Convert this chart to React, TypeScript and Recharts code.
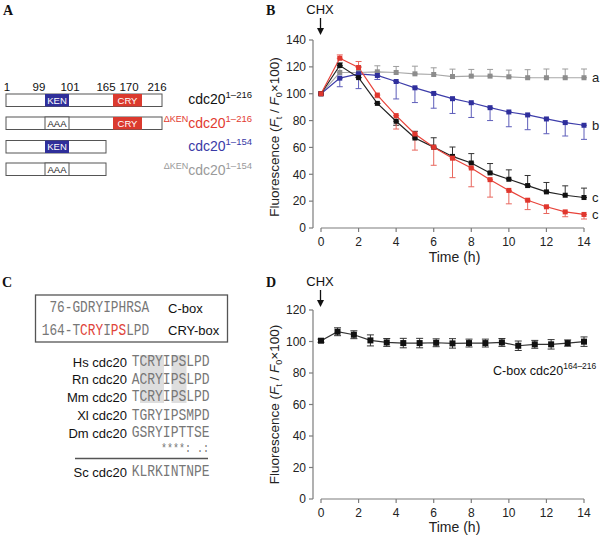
import React from "react";
import { LineChart, Line, XAxis, YAxis, ErrorBar, ReferenceLine } from "recharts";

// ---- panel B: fluorescence decay after CHX ----
const hoursB = [0, 1, 2, 3, 4, 5, 6, 7, 8, 9, 10, 11, 12, 13, 14];
const fullVals = [100, 121, 112, 92.8, 79.5, 67, 60.2, 53.3, 48.4, 41, 36.3, 31.6, 26.9, 24.4, 22.7];
const fullErrLow = [0, 0, 0, 0, 3, 0, 0, 0, 0, 0, 0, 0, 0, 0, 0];
const fullErrHigh = [0, 2, 0, 0, 0, 5, 7, 7, 7, 7, 7, 7.5, 7, 7, 7];
const dKenVals = [100, 126.4, 119.5, 99, 83.7, 70, 60.2, 52, 44.7, 36, 28, 20.7, 15.8, 12, 10.1];
const dKenErrLow = [0, 0, 0, 2, 10, 12, 13.5, 14.5, 14, 13, 10, 7, 5, 3.6, 3.4];
const dKenErrHigh = [0, 2.5, 4.5, 0, 0, 0, 0, 0, 0, 0, 0, 0, 0, 0, 0];
const shortVals = [100, 111.6, 114.8, 113.6, 109.1, 104.4, 100.2, 96.3, 93.3, 89.6, 86.4, 84.2, 81.2, 78.5, 76.5];
const shortErrLow = [0, 6.4, 11, 3, 13, 11, 11, 11, 11, 9.6, 11, 11, 11, 10, 10.5];
const shortErrHigh = [0, 0, 0, 0, 0, 0, 0, 0, 0, 0, 0, 0, 0, 0, 0];
const dKenShortVals = [100, 115.8, 115.8, 116.3, 115.8, 114.8, 114.3, 112.8, 113.1, 113.1, 112.6, 111.9, 111.9, 111.9, 111.9];
const dKenShortErrLow = [0, 0, 0, 0, 0, 0, 0, 0, 0, 0, 0, 0, 0, 0, 0];
const dKenShortErrHigh = [0, 4, 4.5, 4.5, 4.5, 5.7, 5, 5.5, 5, 5, 5, 6, 6.5, 6.5, 6.5];
const ticksB = [0, 20, 40, 60, 80, 100, 120, 140];
const hourTicks = [0, 2, 4, 6, 8, 10, 12, 14];

// ---- panel D: C-box construct ----
const hoursD = [0, 0.88, 1.75, 2.63, 3.5, 4.38, 5.25, 6.13, 7, 7.88, 8.75, 9.63, 10.5, 11.38, 12.25, 13.13, 14];
const cBoxVals = [100.5, 106.2, 104.3, 100.7, 99.4, 99, 99, 99.2, 98.8, 99, 99, 99.4, 97.3, 98.2, 98.2, 99, 99.9];
const cBoxErr = [1, 2.5, 2.5, 3.5, 2.5, 3, 3, 2.5, 3, 2.5, 2.5, 2.5, 3, 2.5, 3, 2, 3];
const ticksD = [0, 20, 40, 60, 80, 100, 120];

// ---- panel A: constructs ----
const residueLabels = ["1", "99", "101", "165", "170", "216"];
const residueX = [7, 39, 70, 106, 129, 157];
const constructPrefix = ["", "\u0394KEN", "", "\u0394KEN"];
const constructSup = ["1\u2013216", "1\u2013216", "1\u2013154", "1\u2013154"];
const constructColor = ["#111", "#e23b30", "#3a3aa6", "#9a9a9a"];
const constructEnd = [162, 162, 106, 106];
const constructKen = ["KEN", "AAA", "KEN", "AAA"];
const constructCry = [true, true, false, false];

// ---- panel C: alignment ----
const motifPrefix = ["76-", "164-"];
const motifSeq = ["GDRYIPHRSA", "TCRYIPSLPD"];
const motifName = ["C-box", "CRY-box"];
const species = ["Hs cdc20", "Rn cdc20", "Mm cdc20", "Xl cdc20", "Dm cdc20"];
const speciesSeq = ["TCRYIPSLPD", "ACRYIPSLPD", "TCRYIPSLPD", "TGRYIPSMPD", "GSRYIPTTSE"];
const conservation = "****: .:";
const yeastSeq = "KLRKINTNPE";

const rowsB = hoursB.map((t, i) => ({
  t,
  full: fullVals[i],
  fullErr: [fullErrLow[i], fullErrHigh[i]],
  dKen: dKenVals[i],
  dKenErr: [dKenErrLow[i], dKenErrHigh[i]],
  short: shortVals[i],
  shortErr: [shortErrLow[i], shortErrHigh[i]],
  dKenShort: dKenShortVals[i],
  dKenShortErr: [dKenShortErrLow[i], dKenShortErrHigh[i]],
}));

const rowsD = hoursD.map((t, i) => ({ t, cbox: cBoxVals[i], cboxErr: cBoxErr[i] }));

const SANS = "'Liberation Sans', Arial, sans-serif";
const MONO = "'Liberation Mono', monospace";
const SERIF = "'Liberation Serif', 'Times New Roman', serif";
const axisColor = "#7c7c7c";

const square = (color: string, size: number) => (props: any) => {
  const { cx, cy, index } = props;
  if (cx == null || cy == null) return <g key={`e-${index}`} />;
  return <rect key={`sq-${index}`} x={cx - size / 2} y={cy - size / 2} width={size} height={size} fill={color} />;
};

const endLabel = (text: string, last: number) => (props: any) => {
  if (props.index !== last) return <g key={`l-${props.index}`} />;
  return (
    <text key="end" x={props.x + 8} y={props.y} dy="0.35em" fontSize={13} fill="#222" fontFamily={SANS}>
      {text}
    </text>
  );
};

const fluorLabel = (shift: number) => (p: any) => {
  const vb = p.viewBox || { x: 0, y: 0, width: 0, height: 0 };
  const cx = vb.x + 14;
  const cy = vb.y + vb.height / 2 + shift;
  return (
    <text x={cx} y={cy} transform={`rotate(-90 ${cx} ${cy})`} textAnchor="middle" dy="0.35em" fontSize={13.5} fill="#222" fontFamily={SANS}>
      Fluorescence (<tspan fontStyle="italic">F</tspan>
      <tspan fontSize={9} dy={3}>t</tspan>
      <tspan dy={-3}> / </tspan>
      <tspan fontStyle="italic">F</tspan>
      <tspan fontSize={9} dy={3}>0</tspan>
      <tspan dy={-3}>{"\u00d7"}100)</tspan>
    </text>
  );
};

const axisTick = { fill: "#222", fontSize: 12, fontFamily: SANS };

function PanelB() {
  return (
    <LineChart width={341} height={265} data={rowsB} margin={{ top: 40, right: 17, left: 0, bottom: 0 }}>
      <XAxis
        type="number"
        dataKey="t"
        domain={[0, 14]}
        ticks={hourTicks}
        padding={{ left: 8, right: 0 }}
        axisLine={false}
        tickLine={{ stroke: axisColor, strokeWidth: 1.2 }}
        tickSize={4}
        tickMargin={5}
        tick={axisTick}
        height={37}
        label={{ value: "Time (h)", position: "insideBottom", offset: 3, dx: 6, fontSize: 14, fill: "#222", fontFamily: SANS }}
      />
      <YAxis
        type="number"
        domain={[0, 140]}
        ticks={ticksB}
        width={53}
        axisLine={{ stroke: axisColor, strokeWidth: 1.2 }}
        tickLine={{ stroke: axisColor, strokeWidth: 1.2 }}
        tickSize={4}
        tickMargin={3}
        tick={axisTick}
        label={fluorLabel(3)}
      />
      <ReferenceLine segment={[{ x: 0, y: 0 }, { x: 14, y: 0 }]} stroke={axisColor} strokeWidth={1.2} />
      <Line dataKey="dKenShort" stroke="#a8a8a8" strokeWidth={1.2} dot={square("#8c8c8c", 5)} isAnimationActive={false} label={endLabel("a", 14)}>
        <ErrorBar dataKey="dKenShortErr" direction="y" width={3} stroke="#9c9c9c" strokeWidth={1} />
      </Line>
      <Line dataKey="short" stroke="#3d3daa" strokeWidth={1.2} dot={square("#2f2f9c", 5)} isAnimationActive={false} label={endLabel("b", 14)}>
        <ErrorBar dataKey="shortErr" direction="y" width={3} stroke="#5e5eba" strokeWidth={1} />
      </Line>
      <Line dataKey="full" stroke="#222" strokeWidth={1.2} dot={square("#111", 5)} isAnimationActive={false} label={endLabel("c", 14)}>
        <ErrorBar dataKey="fullErr" direction="y" width={3} stroke="#333" strokeWidth={1} />
      </Line>
      <Line dataKey="dKen" stroke="#e8433a" strokeWidth={1.2} dot={square("#e0372e", 5)} isAnimationActive={false} label={endLabel("c", 14)}>
        <ErrorBar dataKey="dKenErr" direction="y" width={3} stroke="#e8675e" strokeWidth={1} />
      </Line>
    </LineChart>
  );
}

function PanelD() {
  return (
    <LineChart width={341} height={265} data={rowsD} margin={{ top: 40, right: 17, left: 0, bottom: 0 }}>
      <XAxis
        type="number"
        dataKey="t"
        domain={[0, 14]}
        ticks={hourTicks}
        padding={{ left: 8, right: 0 }}
        axisLine={false}
        tickLine={{ stroke: axisColor, strokeWidth: 1.2 }}
        tickSize={4}
        tickMargin={5}
        tick={axisTick}
        height={36}
        label={{ value: "Time (h)", position: "insideBottom", offset: 3, dx: 6, fontSize: 14, fill: "#222", fontFamily: SANS }}
      />
      <YAxis
        type="number"
        domain={[0, 120]}
        ticks={ticksD}
        width={53}
        axisLine={{ stroke: axisColor, strokeWidth: 1.2 }}
        tickLine={{ stroke: axisColor, strokeWidth: 1.2 }}
        tickSize={4}
        tickMargin={3}
        tick={axisTick}
        label={fluorLabel(0)}
      />
      <ReferenceLine segment={[{ x: 0, y: 0 }, { x: 14, y: 0 }]} stroke={axisColor} strokeWidth={1.2} />
      <Line dataKey="cbox" stroke="#333" strokeWidth={1.2} dot={square("#111", 6)} isAnimationActive={false}>
        <ErrorBar dataKey="cboxErr" direction="y" width={3.5} stroke="#333" strokeWidth={1} />
      </Line>
    </LineChart>
  );
}

function Arrow({ x, y1, y2 }: { x: number; y1: number; y2: number }) {
  return (
    <g>
      <line x1={x} y1={y1} x2={x} y2={y2 - 5} stroke="#111" strokeWidth={1.3} />
      <path d={`M${x - 3.5},${y2 - 7} L${x + 3.5},${y2 - 7} L${x},${y2} Z`} fill="#111" />
    </g>
  );
}

function Seq({ x, y, text, size = 13, fill = "#777", red }: { x: number; y: number; text: string; size?: number; fill?: string; red?: boolean[] }) {
  const chars = text.split("");
  return (
    <text
      x={x}
      y={y}
      fontFamily={MONO}
      fontSize={size}
      fill={fill}
      xmlSpace="preserve"
      transform={`matrix(1 0 0 1.3 0 ${(-0.3 * y).toFixed(2)})`}
    >
      {red
        ? chars.map((c, i) => (
            <tspan key={i} fill={red[i] ? "#e0443a" : fill}>
              {c}
            </tspan>
          ))
        : text}
    </text>
  );
}

function Overlay() {
  const rowTop = [94, 117, 140.5, 163];
  const rowBase = [103.5, 128, 151, 175];
  const barH = 12.5;
  const seqX = 131.7;
  const rowBaseC = [366.5, 384, 401.5, 420, 437.5];
  return (
    <svg width={601} height={538} style={{ position: "absolute", left: 0, top: 0, pointerEvents: "none" }}>
      {/* panel letters */}
      {[["A", 3, 15], ["B", 266, 15], ["C", 2, 287], ["D", 266, 287]].map(([t, x, y]) => (
        <text key={t as string} x={x as number} y={y as number} fontFamily={SERIF} fontWeight="bold" fontSize={14} fill="#111">
          {t}
        </text>
      ))}

      {/* panel A */}
      {residueLabels.map((r, i) => (
        <text key={r} x={residueX[i]} y={91} textAnchor="middle" fontFamily={SANS} fontSize={11.5} fill="#111">
          {r}
        </text>
      ))}
      {rowTop.map((top, i) => (
        <g key={i}>
          <rect x={6} y={top} width={constructEnd[i] - 6} height={barH} fill="#fff" stroke="#555" strokeWidth={1} />
          {constructKen[i] === "KEN" ? (
            <rect x={45} y={top} width={24} height={barH} fill="#2f2f9a" />
          ) : (
            <rect x={45} y={top} width={24} height={barH} fill="#fff" stroke="#555" strokeWidth={1} />
          )}
          <text x={57} y={top + 9.5} textAnchor="middle" fontFamily={SANS} fontSize={9.5} fill={constructKen[i] === "KEN" ? "#fff" : "#222"}>
            {constructKen[i]}
          </text>
          {constructCry[i] && (
            <g>
              <rect x={113} y={top} width={29} height={barH} fill="#db3a2e" />
              <text x={127.5} y={top + 9.5} textAnchor="middle" fontFamily={SANS} fontSize={9.5} fill="#fff">
                CRY
              </text>
            </g>
          )}
          <text x={252} y={rowBase[i]} textAnchor="end" fontFamily={SANS} fontSize={14} fill={constructColor[i]}>
            {constructPrefix[i] && (
              <tspan fontSize={9} dy={-6}>
                {constructPrefix[i]}
              </tspan>
            )}
            <tspan dy={constructPrefix[i] ? 6 : 0}>cdc20</tspan>
            <tspan fontSize={9.5} dy={-6}>
              {constructSup[i]}
            </tspan>
          </text>
        </g>
      ))}

      {/* panel B extras */}
      <text x={320} y={14} textAnchor="middle" fontFamily={SANS} fontSize={13} fill="#111">CHX</text>
      <Arrow x={320.5} y1={18} y2={35} />

      {/* panel C */}
      <rect x={35.5} y={295} width={192} height={47} fill="none" stroke="#555" strokeWidth={1.3} />
      {motifSeq.map((s, i) => {
        const base = i === 0 ? 312.5 : 335;
        const pre = motifPrefix[i];
        const red = (pre + s).split("").map((_, k) => i === 1 && [5, 6, 7, 9, 10].includes(k));
        return (
          <g key={s}>
            <Seq x={72.5 - pre.length * 7.7} y={base} text={pre + s} size={12.8} red={red} />
            <text x={168} y={base} fontFamily={SANS} fontSize={13} fill="#111">
              {motifName[i]}
            </text>
          </g>
        );
      })}
      <rect x={140} y={355} width={24} height={48} fill="#dedede" />
      <rect x={171.5} y={355} width={15} height={48} fill="#dedede" />
      {species.map((sp, i) => (
        <g key={sp}>
          <text x={127} y={rowBaseC[i]} textAnchor="end" fontFamily={SANS} fontSize={13} fill="#111">
            {sp}
          </text>
          <Seq x={seqX} y={rowBaseC[i]} text={speciesSeq[i]} />
        </g>
      ))}
      <Seq x={161} y={452} text={conservation} size={10} />
      <line x1={75} y1={458.5} x2={208} y2={458.5} stroke="#555" strokeWidth={1.3} />
      <text x={127} y={476.5} textAnchor="end" fontFamily={SANS} fontSize={13} fill="#111">
        Sc cdc20
      </text>
      <Seq x={seqX} y={476.5} text={yeastSeq} />

      {/* panel D extras */}
      <text x={320} y={286} textAnchor="middle" fontFamily={SANS} fontSize={13} fill="#111">CHX</text>
      <Arrow x={320.5} y1={290} y2={307} />
      <text x={493} y={375} fontFamily={SANS} fontSize={12.5} fill="#111">
        C-box cdc20<tspan fontSize={8.5} dy={-6}>164{"\u2013"}216</tspan>
      </text>
    </svg>
  );
}

export default function App() {
  return (
    <div style={{ position: "absolute", left: 0, top: 0, width: 601, height: 538, background: "#fff", fontFamily: SANS }}>
      <div style={{ position: "absolute", left: 260, top: 0 }}>
        <PanelB />
      </div>
      <div style={{ position: "absolute", left: 260, top: 270 }}>
        <PanelD />
      </div>
      <Overlay />
    </div>
  );
}
